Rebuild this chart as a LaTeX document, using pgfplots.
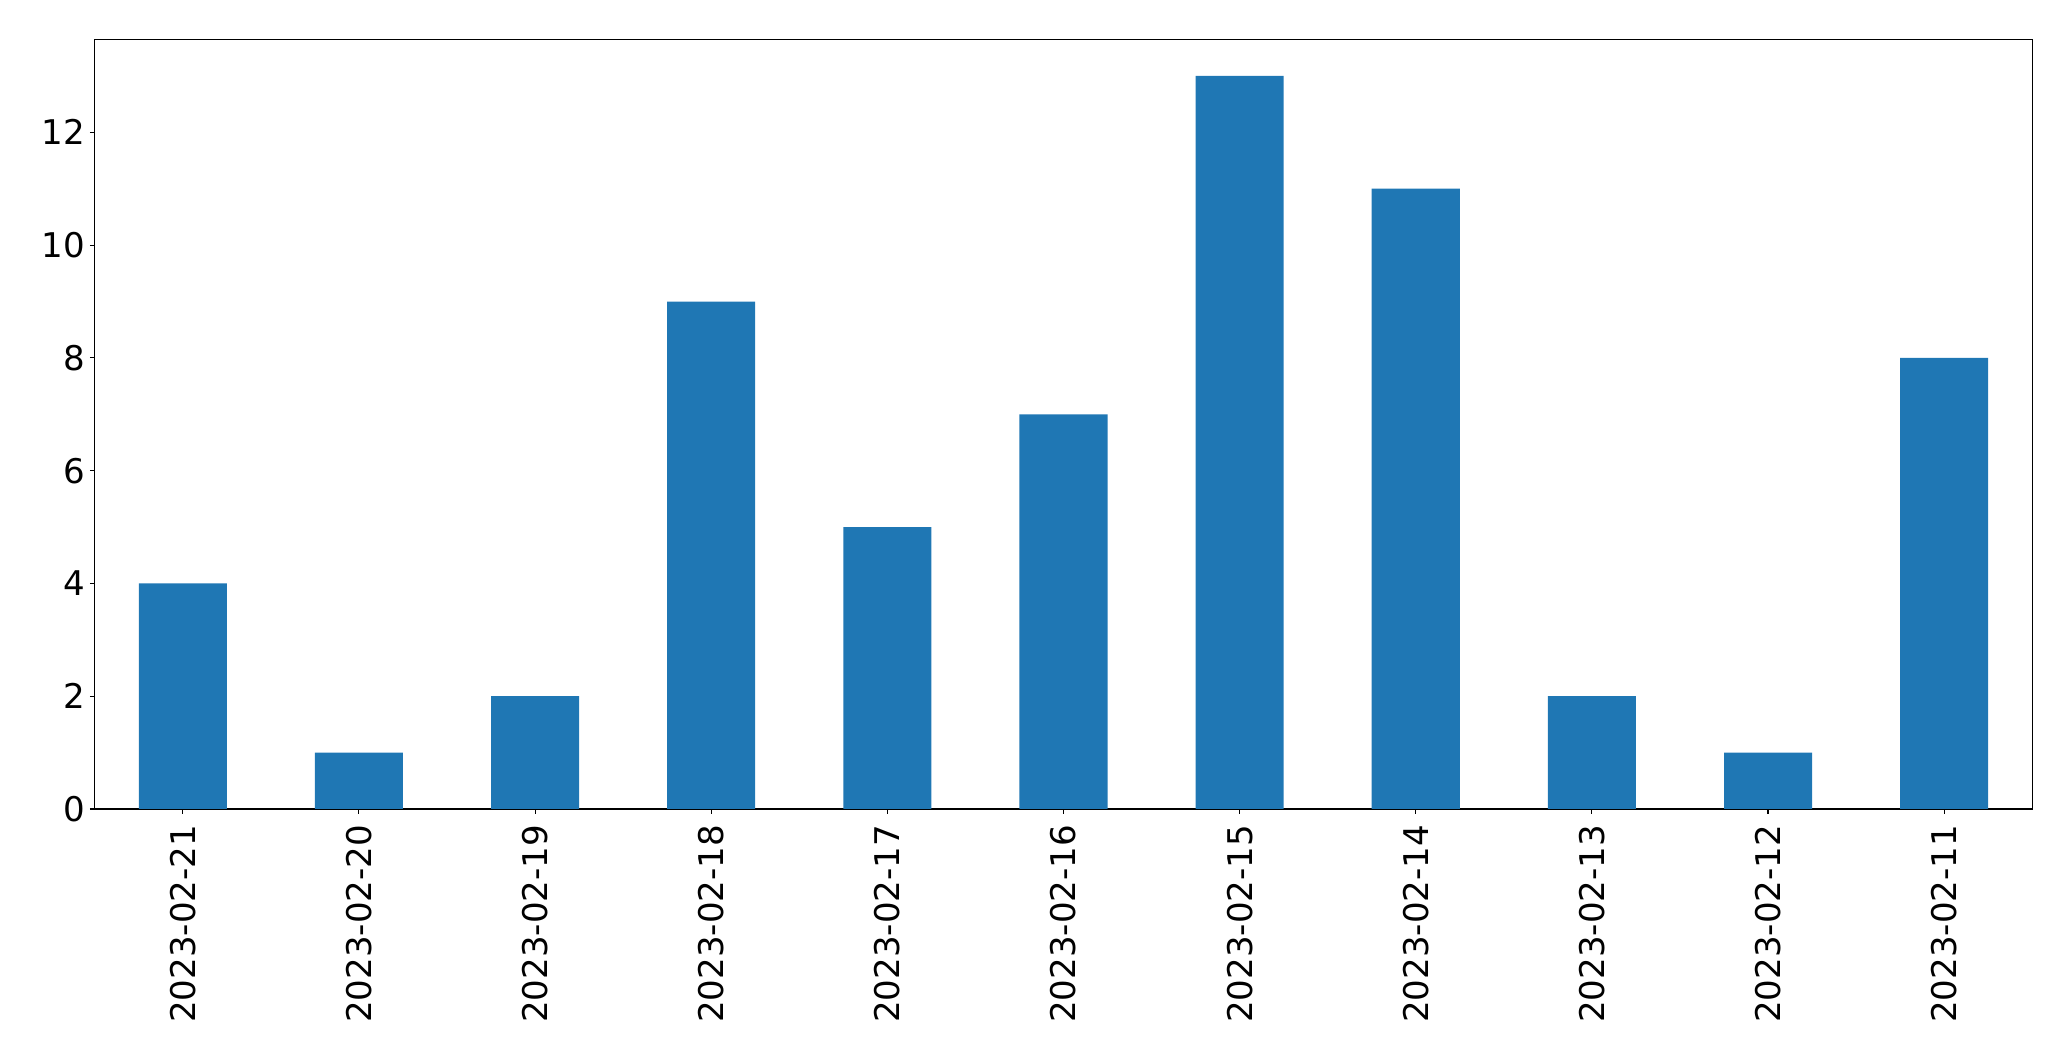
\documentclass[border=0pt]{standalone}
\usepackage{pgfplots}
\pgfplotsset{compat=1.18}
\usepackage{fontspec}
\setmainfont{DejaVu Sans}
\definecolor{mplblue}{HTML}{1F77B4}
\begin{document}
\begin{tikzpicture}
\useasboundingbox (-68.2pt,-181.4pt) rectangle (1423.0pt,582.5pt);
\begin{axis}[
  at={(0pt,0pt)}, anchor=south west,
  scale only axis,
  width=1395.1pt, height=554.2pt,
  xmin=-0.5, xmax=10.5,
  ymin=0, ymax=13.65,
  xtick={0,...,10},
  xticklabels={2023-02-21,2023-02-20,2023-02-19,2023-02-18,2023-02-17,2023-02-16,2023-02-15,2023-02-14,2023-02-13,2023-02-12,2023-02-11},
  ytick={0,2,4,6,8,10,12},
  tick align=outside,
  tick pos=left,
  major tick length=3.5pt,
  every tick/.style={black, line width=0.8pt},
  axis line style={line width=0.8pt},
  /pgf/number format/assume math mode=true,
  tick label style={font=\fontsize{24.5}{29}\selectfont},
  x tick label style={rotate=90, anchor=east},
  xticklabel shift=4.5pt,
  ybar, bar width=0.5,
]
\addplot[fill=mplblue, draw=none] coordinates {
(0,4) (1,1) (2,2) (3,9) (4,5) (5,7) (6,13) (7,11) (8,2) (9,1) (10,8)
};
\end{axis}
\end{tikzpicture}
\end{document}
